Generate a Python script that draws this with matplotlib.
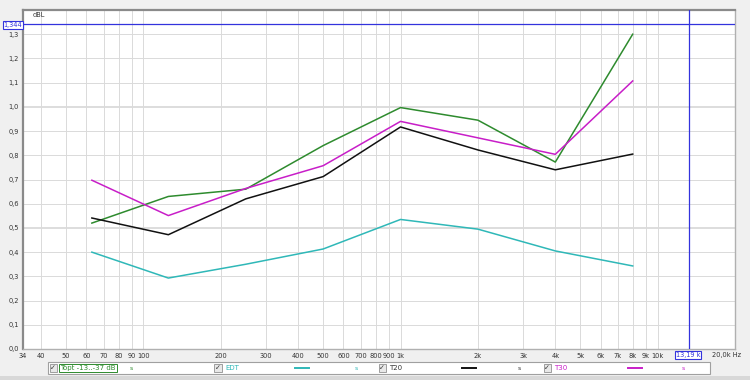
import matplotlib
matplotlib.use("Agg")
import matplotlib.pyplot as plt
from matplotlib.lines import Line2D
from matplotlib.patches import Rectangle

freqs = [63, 125, 250, 500, 1000, 2000, 4000, 8000]
topt = [0.52, 0.63, 0.66, 0.84, 0.997, 0.945, 0.772, 1.30]
edt = [0.40, 0.293, 0.35, 0.413, 0.535, 0.495, 0.405, 0.343]
t20 = [0.541, 0.472, 0.62, 0.712, 0.917, 0.822, 0.74, 0.805]
t30 = [0.697, 0.551, 0.663, 0.757, 0.94, 0.872, 0.804, 1.107]

series_names = ["Topt -13..-37 dB", "EDT", "T20", "T30"]
series_colors = ["#2e8b2e", "#2fb8b8", "#111111", "#c81ec8"]

x_ticks = [34, 40, 50, 60, 70, 80, 90, 100, 200, 300, 400, 500, 600, 700, 800, 900,
           1000, 2000, 3000, 4000, 5000, 6000, 7000, 8000, 9000, 10000]
x_tick_labels = ["34", "40", "50", "60", "70", "80", "90", "100", "200", "300", "400",
                 "500", "600", "700", "800", "900", "1k", "2k", "3k", "4k", "5k", "6k",
                 "7k", "8k", "9k", "10k"]
y_ticks = [0.0, 0.1, 0.2, 0.3, 0.4, 0.5, 0.6, 0.7, 0.8, 0.9, 1.0, 1.1, 1.2, 1.3]
y_tick_labels = ["0,0", "0,1", "0,2", "0,3", "0,4", "0,5", "0,6", "0,7", "0,8", "0,9",
                 "1,0", "1,1", "1,2", "1,3"]
cursor_x = 13190
cursor_y = 1.344

W, H = 750, 380
fig = plt.figure(figsize=(7.5, 3.8), dpi=100, facecolor="#f0f0f0")
ax = fig.add_axes([23 / W, (H - 349) / H, 712 / W, 339 / H])
ax.set_facecolor("white")
ax.set_xscale("log")
ax.set_xlim(34, 20000)
ax.set_ylim(0, 1.4)

for xv in x_ticks[1:]:
    ax.axvline(xv, color="#dadada", lw=0.7, zorder=0)
for yv in y_ticks[1:]:
    lw = 1.3 if abs(yv - 0.5) < 1e-6 or abs(yv - 1.0) < 1e-6 else 0.7
    ax.axhline(yv, color="#dadada", lw=lw, zorder=0)

for vals, col in zip([topt, edt, t20, t30], series_colors):
    ax.plot(freqs, vals, color=col, lw=1.1, zorder=3)

ax.axhline(cursor_y, color="#3333dd", lw=0.9, zorder=4)
ax.axvline(cursor_x, color="#3333dd", lw=0.9, zorder=4)

ax.set_xticks(x_ticks)
ax.set_xticklabels(x_tick_labels)
ax.xaxis.set_minor_locator(matplotlib.ticker.NullLocator())
ax.set_yticks(y_ticks)
ax.set_yticklabels(y_tick_labels)
ax.tick_params(axis="both", length=0, labelsize=4.8, colors="#333333", pad=3)
for s in ["left", "top"]:
    ax.spines[s].set_color("#8a8a8a")
    ax.spines[s].set_linewidth(1.6)
for s in ["right", "bottom"]:
    ax.spines[s].set_color("#b0b0b0")
    ax.spines[s].set_linewidth(1.0)

# axis extras
fig.text(33 / W, 1 - 15 / H, "dBL", fontsize=4.8, color="#333333", ha="left", va="center")
fig.text(727 / W, 1 - 355 / H, "20,0k Hz", fontsize=4.8, color="#333333", ha="center", va="center")
# cursor labels
fig.text(13 / W, 1 - 24.5 / H, "1,344", fontsize=4.8, color="#3333dd", ha="center", va="center",
         bbox=dict(boxstyle="square,pad=0.15", fc="white", ec="#3333dd", lw=0.8))
fig.text(688 / W, 1 - 355 / H, "13,19 k", fontsize=4.8, color="#3333dd", ha="center", va="center",
         bbox=dict(boxstyle="square,pad=0.15", fc="white", ec="#3333dd", lw=0.8))

# legend bar
fig.patches.append(Rectangle((48 / W, 1 - 374 / H), (710 - 48) / W, 12 / H,
                             transform=fig.transFigure, fc="white", ec="#a0a0a0", lw=0.8))
fig.patches.append(Rectangle((0, 0), 1, 4 / H, transform=fig.transFigure,
                             fc="#d8d8d8", ec="none"))
check_x = [53, 218, 382, 547]
line_x = [100, 295, 462, 628]
s_x = [131, 356, 519, 683]
ly = 1 - 368 / H
for name, col, cx, lx, sx in zip(series_names, series_colors, check_x, line_x, s_x):
    fig.patches.append(Rectangle(((cx - 3.5) / W, ly - 4 / H), 7 / W, 8 / H,
                                 transform=fig.transFigure, fc="#e8e8e8", ec="#909090", lw=0.6))
    fig.text(cx / W, ly, "✓", fontsize=5, color="#333333", ha="center", va="center")
    tcol = col if col != "#111111" else "#333333"
    if name.startswith("Topt"):
        fig.text((cx + 7) / W, ly, name, fontsize=5, color=tcol, ha="left", va="center",
                 bbox=dict(boxstyle="square,pad=0.2", fc="white", ec=col, lw=0.7))
    else:
        fig.text((cx + 7) / W, ly, name, fontsize=5, color=tcol, ha="left", va="center")
    fig.lines.append(Line2D([lx / W, (lx + 14) / W], [ly, ly], transform=fig.transFigure,
                            color=col, lw=1.4))
    fig.text(sx / W, ly, "s", fontsize=4.5, color=tcol, ha="center", va="center")

fig.savefig("out.png", dpi=100, facecolor=fig.get_facecolor())
